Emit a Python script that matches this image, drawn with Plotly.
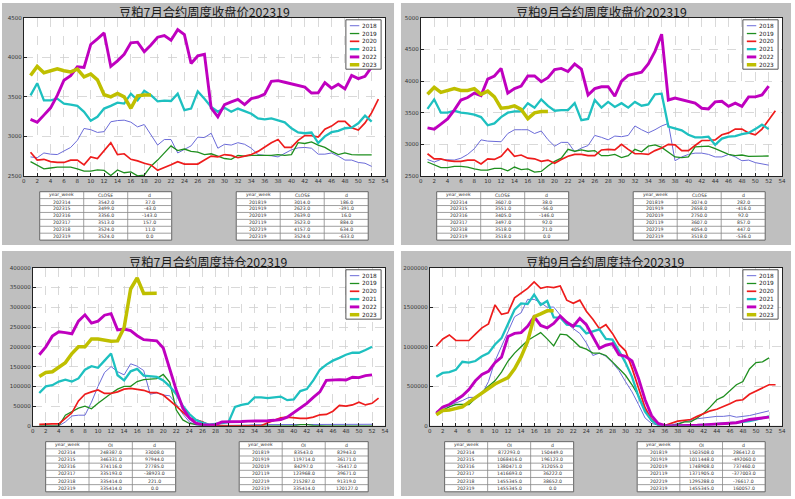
import plotly.graph_objects as go

W, H = 795, 499

years = ['2018', '2019', '2020', '2021', '2022', '2023']
colors = ['#6b6bd8', '#1f8f1f', '#ee1c1c', '#1ec0c0', '#bf00bf', '#bfbf00']
widths = [1.0, 1.3, 1.7, 2.3, 2.9, 3.5]

# ---------------- 豆粕7月合约周度收盘价 ----------------
p7_2018 = [2740, 2730, 2790, 2775, 2770, 2810, 2860, 2950, 3100, 3085,
           3050, 3060, 3185, 3200, 3205, 3180, 3120, 3150, 3014, 2890,
           2960, 2960, 2790, 2830, 2880, 2990, 2985, 3040, 2850, 2900,
           2890, 2920, 2900, 2850, 2770, 2760, 2755, 2740, 2790, 2830,
           2855, 2860, 2850, 2775, 2775, 2790, 2750, 2700, 2700, 2670,
           2660, 2620]
p7_2019 = [2680, 2630, 2590, 2600, 2610, 2610, 2610, 2590, 2560, 2560,
           2575, 2570, 2505, 2575, 2540, 2550, 2500, 2510, 2623, 2700,
           2790, 2880, 2820, 2840, 2810, 2800, 2770, 2780, 2750, 2720,
           2710, 2760, 2750, 2760, 2760, 2760, 2760, 2770, 2760, 2770,
           2920, 2910, 2930, 2890, 2860, 2810, 2770, 2790, 2770, 2765,
           2765, 2765]
p7_2020 = [2800, 2700, 2710, 2680, 2670, 2670, 2700, 2700, 2640, 2740,
           2720, 2820, 2920, 2770, 2780, 2710, 2690, 2660, 2639, 2570,
           2600, 2640, 2680, 2650, 2650, 2650, 2700, 2750, 2740, 2770,
           2760, 2730, 2750, 2770, 2810, 2870, 2920, 2960, 2860, 2860,
           2950, 3010, 3010, 2990, 3090, 3130, 3190, 3190, 3110, 3080,
           3170, 3300, 3470]
p7_2021 = [3519, 3673, 3456, 3456, 3477, 3415, 3402, 3386, 3311, 3199,
           3248, 3352, 3386, 3427, 3415, 3540, 3456, 3577, 3523, 3444,
           3452, 3448, 3540, 3332, 3352, 3569, 3477, 3373, 3311, 3361,
           3311, 3352, 3319, 3286, 3228, 3215, 3228, 3207, 3178, 3103,
           3049, 3040, 3049, 2916, 3000, 3053, 3070, 3103, 3111, 3165,
           3261, 3186]
p7_2022 = [3215, 3178, 3269, 3361, 3519, 3710, 3768, 3880, 3872, 4163,
           4234, 4309, 3885, 3955, 4038, 4184, 4192, 4072, 4157, 4255,
           4275, 4217, 4350, 4288, 3922, 4018, 4038, 3361, 3248, 3402,
           3436, 3469, 3402, 3477, 3498, 3535, 3697, 3705, 3685, 3664,
           3643, 3623, 3548, 3552, 3680, 3610, 3660, 3600, 3770, 3730,
           3760, 3880]
p7_2023 = [3770, 3885, 3806, 3830, 3855, 3830, 3815, 3850, 3752, 3790,
           3715, 3527, 3500, 3542, 3499, 3356, 3513, 3524, 3524]

# ---------------- 豆粕9月合约周度收盘价 ----------------
p9_2018 = [2760, 2720, 2760, 2760, 2750, 2780, 2840, 2930, 3070, 3050,
           3040, 3040, 3170, 3230, 3230, 3230, 3170, 3210, 3074, 2970,
           3030, 3030, 2880, 2940, 2980, 3140, 3110, 3070, 3130, 3120,
           3140, 3290, 3230, 3180, 3230, 3290, 3330, 2740, 2800, 2840,
           2860, 2860, 2840, 2800, 2800, 2840, 2800, 2740, 2750, 2710,
           2690, 2670]
p9_2019 = [2720, 2670, 2630, 2630, 2650, 2650, 2640, 2610, 2590, 2590,
           2620, 2620, 2580, 2640, 2600, 2610, 2560, 2570, 2658, 2730,
           2780, 2920, 2890, 2910, 2890, 2900, 2820, 2820, 2840, 2790,
           2820, 2920, 2880, 2970, 2990, 2950, 2880, 2800, 2790, 2800,
           2960, 2960, 2970, 2930, 2890, 2840, 2820, 2830, 2810, 2810,
           2810, 2815]
p9_2020 = [2850, 2770, 2770, 2740, 2730, 2730, 2750, 2750, 2690, 2770,
           2760, 2810, 2930, 2810, 2830, 2780, 2770, 2730, 2750, 2700,
           2760, 2810, 2840, 2840, 2820, 2820, 2910, 2920, 2910, 3000,
           2920, 2850, 2850, 2840, 2900, 2940, 3000, 2990, 2900, 2900,
           2980, 3060, 3060, 3070, 3150, 3180, 3240, 3240, 3180, 3150,
           3240, 3380, 3530]
p9_2021 = [3560, 3710, 3500, 3500, 3530, 3500, 3490, 3470, 3430, 3300,
           3330, 3430, 3500, 3520, 3520, 3650, 3580, 3710, 3607, 3530,
           3540, 3540, 3650, 3380, 3400, 3700, 3580, 3670, 3590, 3650,
           3580, 3670, 3610, 3630, 3790, 3800, 3280, 3250, 3220, 3150,
           3110, 3110, 3120, 2990, 3090, 3120, 3130, 3160, 3180, 3240,
           3310, 3240]
p9_2022 = [3260, 3240, 3320, 3400, 3540, 3700, 3740, 3810, 3770, 4030,
           4080, 4200, 3810, 3880, 3920, 4080, 4080, 3990, 4054, 4180,
           4200, 4150, 4270, 4190, 3780, 3880, 3910, 3910, 3760, 4000,
           4090, 4120, 4140, 4270, 4470, 4740, 3700, 3730, 3700, 3670,
           3650, 3570, 3560, 3670, 3680, 3600, 3650, 3600, 3750, 3750,
           3780, 3920]
p9_2023 = [3790, 3900, 3820, 3850, 3880, 3850, 3850, 3880, 3790, 3840,
           3750, 3570, 3580, 3607, 3551, 3405, 3497, 3518, 3518]

# ---------------- 豆粕7月合约周度持仓 ----------------
oi7_2018 = [0, 0, 0, 0, 10000, 25000, 27000, 27000, 60000, 100000,
            135000, 150000, 137000, 129000, 157000, 151000, 140000, 80000, 83543, 78000,
            76000, 55000, 30000, 10000, 2000, 1000, 0, 0, 1000, 1000,
            2000, 2000, 2000, 3000, 3000, 3000, 3000, 3000, 3000, 3000,
            3000, 4000, 4000, 4000, 4000, 4000, 4000, 4000, 4000, 4000,
            4000, 4000]
oi7_2019 = [0, 0, 0, 0, 27000, 37000, 45000, 50000, 43000, 57000,
            70000, 82000, 93000, 100000, 100000, 112000, 117000, 118000, 119714, 130000,
            110000, 40000, 15000, 6000, 3000, 1000, 0, 0, 0, 0,
            0, 0, 0, 0, 0, 0, 0, 0, 0, 0,
            3000, 3000, 1000, 0, 0, 0, 0, 0, 0, 0,
            0, 0]
oi7_2020 = [4000, 5000, 5000, 5000, 20000, 33000, 63000, 80000, 86000, 91000,
            82000, 82000, 86000, 93000, 95000, 92000, 90000, 84000, 84297, 78000,
            65000, 50000, 35000, 20000, 15000, 10000, 2000, 1000, 0, 0,
            0, 0, 0, 0, 0, 8000, 15000, 20000, 22000, 20000,
            19000, 19000, 22000, 28000, 29000, 37000, 52000, 50000, 53000, 60000,
            53000, 57000, 70000]
oi7_2021 = [83000, 100000, 103000, 112000, 117000, 112000, 120000, 142000, 151000, 147000,
            165000, 183000, 128000, 115000, 138000, 144000, 127000, 125000, 123968, 115000,
            100000, 80000, 50000, 30000, 15000, 8000, 3000, 5000, 7000, 9000,
            48000, 53000, 56000, 72000, 72000, 70000, 72000, 74000, 65000, 67000,
            88000, 93000, 115000, 142000, 155000, 165000, 172000, 180000, 185000, 185000,
            192000, 200000]
oi7_2022 = [180000, 200000, 227000, 238000, 236000, 233000, 265000, 281000, 260000, 265000,
            280000, 284000, 243000, 245000, 241000, 228000, 218000, 216000, 215287, 197000,
            145000, 90000, 45000, 20000, 7000, 3000, 2000, 3000, 10000, 10000,
            10000, 11000, 12000, 12000, 13000, 13000, 14000, 16000, 22000, 33000,
            45000, 57000, 72000, 86000, 115000, 116000, 117000, 116000, 123000, 122000,
            127000, 129000]
oi7_2023 = [125000, 135000, 137000, 148000, 160000, 183000, 200000, 200000, 220000, 220000,
            217000, 214000, 215000, 248387, 346331, 374116, 335193, 335414, 335414]

# ---------------- 豆粕9月合约周度持仓 ----------------
oi9_2018 = [150000, 220000, 260000, 290000, 320000, 360000, 360000, 400000, 560000, 820000,
            1000000, 1180000, 1380000, 1430000, 1600000, 1600000, 1560000, 1500000, 1503508, 1400000,
            1300000, 1230000, 1170000, 1050000, 890000, 920000, 880000, 800000, 700000, 560000,
            430000, 270000, 100000, 30000, 10000, 5000, 10000, 30000, 50000, 70000,
            90000, 100000, 110000, 120000, 120000, 130000, 110000, 120000, 130000, 150000,
            170000, 190000]
oi9_2019 = [180000, 200000, 240000, 270000, 270000, 270000, 350000, 430000, 500000, 570000,
            680000, 820000, 920000, 1000000, 1080000, 1130000, 1180000, 1100000, 1011448, 1160000,
            1150000, 1080000, 1000000, 970000, 920000, 920000, 890000, 810000, 730000, 640000,
            520000, 380000, 200000, 60000, 10000, 0, 0, 20000, 50000, 50000,
            100000, 160000, 240000, 330000, 370000, 450000, 520000, 560000, 720000, 800000,
            810000, 860000]
oi9_2020 = [1010000, 1100000, 1150000, 1080000, 1080000, 1080000, 1160000, 1240000, 1290000, 1530000,
            1410000, 1430000, 1620000, 1680000, 1740000, 1820000, 1740000, 1760000, 1748908, 1770000,
            1590000, 1550000, 1590000, 1450000, 1350000, 1230000, 1280000, 1170000, 1030000, 950000,
            730000, 480000, 230000, 80000, 20000, 5000, 30000, 60000, 70000, 80000,
            120000, 160000, 190000, 210000, 240000, 280000, 320000, 330000, 400000, 440000,
            470000, 520000, 520000]
oi9_2021 = [620000, 670000, 680000, 710000, 810000, 800000, 820000, 880000, 920000, 1030000,
            1110000, 1300000, 1470000, 1550000, 1540000, 1660000, 1530000, 1580000, 1371905, 1370000,
            1280000, 1270000, 1260000, 1170000, 1200000, 1220000, 1100000, 1090000, 950000, 800000,
            620000, 370000, 180000, 70000, 10000, 0, 0, 0, 3000, 5000,
            8000, 12000, 16000, 20000, 25000, 30000, 40000, 50000, 60000, 80000,
            100000, 120000]
oi9_2022 = [160000, 240000, 270000, 320000, 380000, 460000, 570000, 650000, 690000, 800000,
            870000, 1130000, 1170000, 1180000, 1260000, 1380000, 1270000, 1240000, 1295288, 1390000,
            1310000, 1260000, 1360000, 1280000, 1130000, 980000, 1020000, 1040000, 900000, 880000,
            820000, 600000, 330000, 130000, 30000, 5000, 0, 0, 2000, 5000,
            8000, 12000, 16000, 20000, 26000, 33000, 40000, 60000, 80000, 90000,
            100000, 110000]
oi9_2023 = [140000, 195000, 200000, 220000, 240000, 300000, 360000, 420000, 470000, 530000,
            570000, 610000, 722000, 872293, 1068416, 1380471, 1416693, 1455345, 1455345]

# ---------------- tables ----------------
tbl_recent_weeks = ['202314', '202315', '202316', '202317', '202318', '202319']
tbl_yoy_weeks = ['201819', '201919', '202019', '202119', '202219', '202319']

t7p_close = [3542, 3499, 3356, 3513, 3524, 3524]
t7p_d = [37, -43, -143, 157, 11, 0]
t7p_yoy_close = [3014, 2623, 2639, 3523, 4157, 3524]
t7p_yoy_d = [186, -391, 16, 884, 634, -633]

t9p_close = [3607, 3551, 3405, 3497, 3518, 3518]
t9p_d = [38, -56, -146, 92, 21, 0]
t9p_yoy_close = [3074, 2658, 2750, 3607, 4054, 3518]
t9p_yoy_d = [282, -416, 92, 857, 447, -536]

t7oi = [248387, 346331, 374116, 335193, 335414, 335414]
t7oi_d = [33008, 97944, 27785, -38923, 221, 0]
t7oi_yoy = [83543, 119714, 84297, 123968, 215287, 335414]
t7oi_yoy_d = [82943, 36171, -35417, 39671, 91319, 120127]

t9oi = [872293, 1068416, 1380471, 1416693, 1455345, 1455345]
t9oi_d = [150449, 196123, 312055, 36222, 38652, 0]
t9oi_yoy = [1503508, 1011448, 1748908, 1371905, 1295288, 1455345]
t9oi_yoy_d = [286412, -492060, 737460, -377003, -76617, 160057]

x_ticks = list(range(0, 55, 2))


def fx(px):
    return px / W


def fy(py):
    return 1 - py / H


panels = [
    dict(title='豆粕7月合约周度收盘价202319', series=[p7_2018, p7_2019, p7_2020, p7_2021, p7_2022, p7_2023],
         box=(22, 15, 386, 175), yr=(2500, 4500), dt=500, panel=(0, 0, 395, 245), rowh=7.0,
         tables=[(38, 191, 171, 'CLOSE', tbl_recent_weeks, t7p_close, t7p_d),
                 (236, 191, 369, 'CLOSE', tbl_yoy_weeks, t7p_yoy_close, t7p_yoy_d)]),
    dict(title='豆粕9月合约周度收盘价202319', series=[p9_2018, p9_2019, p9_2020, p9_2021, p9_2022, p9_2023],
         box=(422, 15, 786, 175), yr=(2500, 5000), dt=500, panel=(402, 0, 795, 245), rowh=7.0,
         tables=[(438, 191, 571, 'CLOSE', tbl_recent_weeks, t9p_close, t9p_d),
                 (636, 191, 769, 'CLOSE', tbl_yoy_weeks, t9p_yoy_close, t9p_yoy_d)]),
    dict(title='豆粕7月合约周度持仓202319', series=[oi7_2018, oi7_2019, oi7_2020, oi7_2021, oi7_2022, oi7_2023],
         box=(31, 268, 386, 428), yr=(0, 400000), dt=50000, panel=(0, 251, 395, 499), rowh=7.25,
         tables=[(44, 444, 175, 'OI', tbl_recent_weeks, t7oi, t7oi_d),
                 (239, 444, 369, 'OI', tbl_yoy_weeks, t7oi_yoy, t7oi_yoy_d)]),
    dict(title='豆粕9月合约周度持仓202319', series=[oi9_2018, oi9_2019, oi9_2020, oi9_2021, oi9_2022, oi9_2023],
         box=(431, 268, 786, 428), yr=(0, 2000000), dt=500000, panel=(402, 251, 795, 499), rowh=7.25,
         tables=[(446, 444, 576, 'OI', tbl_recent_weeks, t9oi, t9oi_d),
                 (640, 444, 769, 'OI', tbl_yoy_weeks, t9oi_yoy, t9oi_yoy_d)]),
]

fig = go.Figure()
shapes = []
annotations = []
layout = dict(width=W, height=H, margin=dict(l=0, r=0, t=0, b=0),
              paper_bgcolor='white', plot_bgcolor='rgba(0,0,0,0)', showlegend=False,
              font=dict(family='DejaVu Sans', color='#222'))

tick_font = dict(family='DejaVu Sans', size=5.5, color='#333')
tbl_font = dict(family='DejaVu Sans', size=4.6, color='#333')
leg_font = dict(family='DejaVu Sans', size=5.8, color='#222')


def line_shape(x0, y0, x1, y1, color, width):
    return dict(type='line', xref='paper', yref='paper', x0=fx(x0), x1=fx(x1), y0=fy(y0), y1=fy(y1),
                line=dict(color=color, width=width))


for i, p in enumerate(panels):
    n = '' if i == 0 else str(i + 1)
    xa, ya = 'x' + n, 'y' + n
    x0, y0, x1, y1 = p['box']
    px0, py0, px1, py1 = p['panel']
    shapes.append(dict(type='rect', xref='paper', yref='paper', layer='below',
                       x0=fx(px0), x1=fx(px1), y0=fy(py1), y1=fy(py0),
                       fillcolor='#bfbfbf', line=dict(width=0)))
    shapes.append(dict(type='rect', xref='paper', yref='paper', layer='below',
                       x0=fx(x0), x1=fx(x1), y0=fy(y1), y1=fy(y0),
                       fillcolor='white', line=dict(width=0)))
    for k, vals in enumerate(p['series']):
        fig.add_trace(go.Scatter(
            x=list(range(1, len(vals) + 1)), y=vals, mode='lines', name=years[k],
            line=dict(color=colors[k], width=widths[k]),
            xaxis=xa, yaxis=ya, showlegend=False))
    layout['xaxis' + n] = dict(domain=[fx(x0), fx(x1)], range=[0, 54], anchor=ya,
                               tickmode='array', tickvals=x_ticks, ticktext=[str(t) for t in x_ticks],
                               showgrid=True, gridcolor='#d0d0d0', griddash='dash', gridwidth=0.8,
                               showline=True, mirror=True, linecolor='#222', linewidth=1,
                               ticks='inside', ticklen=3, tickcolor='#222', tickfont=tick_font,
                               zeroline=False, fixedrange=True)
    yt = list(range(p['yr'][0], p['yr'][1] + 1, p['dt']))
    layout['yaxis' + n] = dict(domain=[fy(y1), fy(y0)], range=list(p['yr']), anchor=xa,
                               tickmode='array', tickvals=yt, ticktext=[str(t) for t in yt],
                               showgrid=True, gridcolor='#d0d0d0', griddash='dash', gridwidth=0.8,
                               showline=True, mirror=True, linecolor='#222', linewidth=1,
                               ticks='inside', ticklen=3, tickcolor='#222', tickfont=tick_font,
                               zeroline=False, fixedrange=True)

    # title
    annotations.append(dict(text=p['title'], xref='paper', yref='paper',
                            x=fx((x0 + x1) / 2), y=fy(y0 - 5.5), xanchor='center', yanchor='middle',
                            showarrow=False,
                            font=dict(family='Noto Sans CJK SC', size=12.3, color='#1a1a1a')))

    # legend box drawn by hand (matplotlib-style compact legend)
    lx1 = x1 - 4
    lx0 = lx1 - 35.5
    ly0 = y0 + 2
    ly1 = ly0 + 50
    shapes.append(dict(type='rect', xref='paper', yref='paper', x0=fx(lx0), x1=fx(lx1),
                       y0=fy(ly1), y1=fy(ly0), fillcolor='white', line=dict(color='#555', width=1)))
    for k in range(len(years)):
        ry = ly0 + 6 + k * 7.9
        shapes.append(line_shape(lx0 + 4, ry, lx0 + 13.5, ry, colors[k], widths[k]))
        annotations.append(dict(text=years[k], xref='paper', yref='paper', x=fx(lx1 - 2), y=fy(ry),
                                xanchor='right', yanchor='middle', showarrow=False, font=leg_font))

    # tables drawn by hand
    rh = p['rowh']
    for (tx0, ty0, tx1, colname, wk, v, d) in p['tables']:
        nrows = len(wk) + 1
        ty1 = ty0 + nrows * rh
        cw = (tx1 - tx0) / 3
        shapes.append(dict(type='rect', xref='paper', yref='paper', x0=fx(tx0), x1=fx(tx1),
                           y0=fy(ty1), y1=fy(ty0), fillcolor='white', line=dict(color='#666', width=1)))
        for r in range(1, nrows):
            shapes.append(line_shape(tx0, ty0 + r * rh, tx1, ty0 + r * rh, '#888', 0.8))
        for c in range(1, 3):
            shapes.append(line_shape(tx0 + c * cw, ty0, tx0 + c * cw, ty1, '#888', 0.8))
        rows = [['year_week', colname, 'd']] + [[wk[j], f'{v[j]:.1f}', f'{d[j]:.1f}'] for j in range(len(wk))]
        for r, row in enumerate(rows):
            for c, txt in enumerate(row):
                annotations.append(dict(text=txt, xref='paper', yref='paper',
                                        x=fx(tx0 + (c + 0.5) * cw), y=fy(ty0 + (r + 0.5) * rh),
                                        xanchor='center', yanchor='middle', showarrow=False,
                                        font=tbl_font))

layout['shapes'] = shapes
layout['annotations'] = annotations
fig.update_layout(**layout)
fig.write_html('out.html',
               config={'displayModeBar': False, 'staticPlot': True},
               post_script="document.body.style.margin='0';document.body.style.padding='0';"
                           "document.body.style.overflow='hidden';")
